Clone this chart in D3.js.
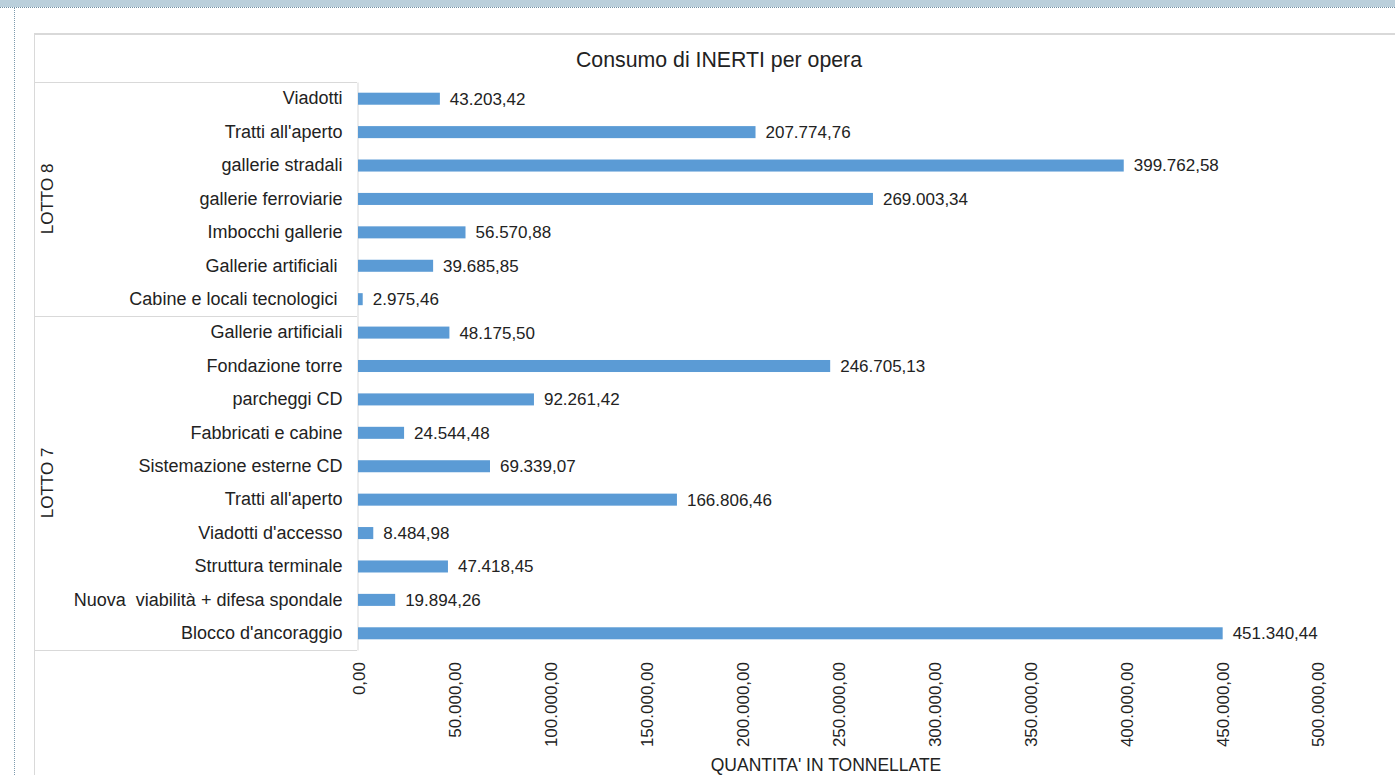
<!DOCTYPE html>
<html>
<head>
<meta charset="utf-8">
<script src="https://cdn.jsdelivr.net/npm/d3@7"></script>
<style>
  html, body { margin: 0; padding: 0; background: #fff; }
  svg { display: block; font-family: "Liberation Sans", Arial, sans-serif; }
  .cat-label, .value-label, .tick-label, .axis-title, .group-label { fill: #222; font-size: 17px; }
  .cat-label { white-space: pre; font-size: 18px; }
  .axis-title { font-size: 17.5px; }
  .chart-title { fill: #222; font-size: 21.3px; }
  .frame { stroke: #d9d9d9; stroke-width: 1; fill: none; }
</style>
</head>
<body>
<svg id="chart"></svg>
<script>
// Data: Lotto 8 and Lotto 7, tonnes
const lotto8Names = ['Viadotti', "Tratti all'aperto", 'gallerie stradali', 'gallerie ferroviarie',
  'Imbocchi gallerie', 'Gallerie artificiali ', 'Cabine e locali tecnologici '];
const lotto8Values = [43203.42, 207774.76, 399762.58, 269003.34, 56570.88, 39685.85, 2975.46];

const lotto7Names = ['Gallerie artificiali', 'Fondazione torre', 'parcheggi CD', 'Fabbricati e cabine',
  'Sistemazione esterne CD', "Tratti all'aperto", "Viadotti d'accesso", 'Struttura terminale',
  'Nuova  viabilità + difesa spondale', "Blocco d'ancoraggio"];
const lotto7Values = [48175.50, 246705.13, 92261.42, 24544.48, 69339.07, 166806.46, 8484.98,
  47418.45, 19894.26, 451340.44];

const groupNames = ['LOTTO 8', 'LOTTO 7'];
const xTicks = [0, 50000, 100000, 150000, 200000, 250000, 300000, 350000, 400000, 450000, 500000];

const chartTitle = 'Consumo di INERTI per opera';
const xTitle = "QUANTITA' IN TONNELLATE";

const W = 1395, H = 775;

// italian number format
const it = d3.formatLocale({ decimal: ',', thousands: '.', grouping: [3], currency: ['€', ''] });
const fmt = it.format(',.2f');

const rows = [
  ...lotto8Names.map((n, i) => ({ id: 'a' + i, name: n, value: lotto8Values[i], group: 0 })),
  ...lotto7Names.map((n, i) => ({ id: 'b' + i, name: n, value: lotto7Values[i], group: 1 }))
];

const svg = d3.select('#chart').attr('width', W).attr('height', H);

// page decoration: top bar and dotted borders
svg.append('rect').attr('x', 0).attr('y', 0).attr('width', W).attr('height', 7).attr('fill', '#bacfdb');
svg.append('line').attr('x1', 0).attr('x2', W).attr('y1', 7.5).attr('y2', 7.5)
    .attr('stroke', '#6f8fa3').attr('stroke-dasharray', '1,1');
svg.append('line').attr('x1', 14.5).attr('x2', 14.5).attr('y1', 8).attr('y2', H)
    .attr('stroke', '#7d9aad').attr('stroke-dasharray', '1,1');

// chart frame
svg.append('line').attr('class', 'frame').attr('x1', 34).attr('x2', W).attr('y1', 33.5).attr('y2', 33.5)
    .attr('stroke', '#d2d2d2');
svg.append('line').attr('class', 'frame').attr('x1', 34).attr('x2', W).attr('y1', 34.5).attr('y2', 34.5)
    .attr('stroke', '#f2f2f2');
svg.append('line').attr('class', 'frame').attr('x1', 34.5).attr('x2', 34.5).attr('y1', 33).attr('y2', H);

// scales
const x = d3.scaleLinear().domain([0, 500000]).range([357, 1316]);
const y = d3.scaleBand().domain(rows.map(d => d.id)).range([82, 650])
    .paddingInner(0.64).paddingOuter(0.32);
const step = y.step();
const yTop = y.range()[0], yBottom = y.range()[1];
const ySplit = yTop + lotto8Names.length * step;

// category table lines
[yTop, ySplit, yBottom].forEach(v => {
  svg.append('line').attr('class', 'frame')
      .attr('x1', 34).attr('x2', x(0)).attr('y1', Math.round(v) + 0.5).attr('y2', Math.round(v) + 0.5);
});

// title
svg.append('text').attr('class', 'chart-title')
    .attr('x', 719).attr('y', 67).attr('text-anchor', 'middle').text(chartTitle);

// y axis with category labels
const yAxis = svg.append('g').attr('transform', `translate(${x(0) + 0.5},0)`)
    .call(d3.axisLeft(y).tickSize(0).tickSizeOuter(0).tickPadding(15)
        .tickFormat(id => rows.find(r => r.id === id).name));
yAxis.select('.domain').attr('stroke', '#d9d9d9');
yAxis.selectAll('text').attr('class', 'cat-label').attr('fill', null);
yAxis.attr('font-size', null).attr('font-family', null);

// group labels
groupNames.forEach((g, i) => {
  const y0 = i === 0 ? yTop : ySplit;
  const y1 = i === 0 ? ySplit : yBottom;
  svg.append('text').attr('class', 'group-label')
      .attr('transform', `translate(53,${(y0 + y1) / 2}) rotate(-90)`)
      .attr('text-anchor', 'middle').text(g);
});

// bars
svg.selectAll('.bar').data(rows).enter().append('rect')
    .attr('class', 'bar')
    .attr('x', x(0) + 1)
    .attr('y', d => y(d.id))
    .attr('height', y.bandwidth())
    .attr('width', d => Math.max(0, x(d.value) - x(0) - 1))
    .attr('fill', '#5b9bd5');

// value labels
svg.selectAll('.value-label').data(rows).enter().append('text')
    .attr('class', 'value-label')
    .attr('x', d => x(d.value) + 10)
    .attr('y', d => y(d.id) + y.bandwidth() / 2)
    .attr('dy', '0.35em')
    .text(d => fmt(d.value));

// x axis tick labels (rotated)
const xAxis = svg.append('g').attr('transform', 'translate(0,662)')
    .call(d3.axisBottom(x).tickValues(xTicks).tickSize(0).tickFormat(fmt));
xAxis.select('.domain').remove();
xAxis.attr('font-size', null).attr('font-family', null);
xAxis.selectAll('text')
    .attr('class', 'tick-label')
    .attr('fill', null)
    .attr('y', 0).attr('x', 0).attr('dy', '0.35em')
    .attr('transform', 'translate(2,0) rotate(-90)')
    .attr('text-anchor', 'end');

// x axis title
svg.append('text').attr('class', 'axis-title')
    .attr('x', 826).attr('y', 771).attr('text-anchor', 'middle').text(xTitle);
</script>
</body>
</html>
